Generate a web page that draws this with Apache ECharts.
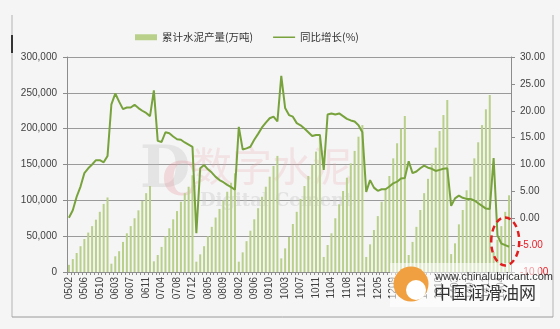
<!DOCTYPE html>
<html><head><meta charset="utf-8">
<script src="https://cdn.jsdelivr.net/npm/echarts@6/dist/echarts.min.js"></script>
<style>html,body{margin:0;padding:0;background:#f5f5f5;}#c{width:560px;height:329px;}</style>
</head><body><div id="c"></div>
<script>
// Category labels: years and months (cumulative data starts at Feb each year)
const years = ['05','06','07','08','09','10','11','12','13','14','15'];
const months = ['02','03','04','05','06','07','08','09','10','11','12'];

// Cumulative cement output (10k tonnes), Feb..Dec each year
const output2005 = [10000, 18000, 26500, 36000, 46000, 55000, 64000, 73000, 84000, 95000, 104000];
const output2006 = [11600, 21900, 29000, 42000, 54000, 64000, 75000, 86000, 99000, 110000, 120000];
const output2007 = [14900, 23700, 35000, 50000, 61000, 73500, 85000, 98000, 110000, 119000, 135000];
const output2008 = [14400, 24600, 36000, 50000, 63000, 76000, 88000, 100000, 112000, 124600, 137700];
const output2009 = [14400, 27400, 43000, 57600, 73500, 89000, 105000, 119000, 133000, 148000, 162000];
const output2010 = [19000, 33000, 49000, 67000, 84000, 102000, 120000, 134000, 150000, 168000, 187000];
const output2011 = [21000, 37700, 54000, 75000, 94500, 113000, 131600, 151600, 169000, 188800, 205000];
const output2012 = [21000, 38600, 58600, 78000, 98000, 116800, 134000, 158600, 179600, 200000, 217700];
const output2013 = [23700, 42000, 63000, 86500, 110000, 130000, 151600, 173500, 196700, 219000, 240000];
const output2014 = [25000, 40000, 66500, 86500, 114000, 133000, 158600, 181000, 205000, 227000, 247000];
const output2015 = [28000, 45000, 64000, 84000, 107000];

// Year-on-year growth (%)
const growth2005 = [0.1, 1.5, 4.0, 5.9, 8.4, 9.3, 10.0, 10.8, 10.8, 10.4, 11.6];
const growth2006 = [21.2, 23.2, 21.7, 20.3, 20.6, 20.6, 21.1, 20.5, 20.0, 19.6, 19.0];
const growth2007 = [23.8, 14.4, 14.2, 16.0, 15.8, 15.2, 14.7, 14.6, 14.1, 13.7, 13.3];
const growth2008 = [-2.8, 9.3, 9.9, 9.1, 8.5, 7.7, 7.1, 6.7, 6.2, 5.8, 5.3];
const growth2009 = [17.0, 12.8, 13.0, 13.3, 14.6, 15.7, 16.9, 17.8, 18.6, 18.9, 18.0];
const growth2010 = [26.5, 20.5, 19.2, 18.9, 17.7, 17.3, 16.7, 16.0, 15.3, 15.5, 15.5];
const growth2011 = [9.0, 19.3, 19.5, 19.3, 19.5, 19.0, 18.5, 18.2, 18.0, 17.3, 16.0];
const growth2012 = [4.9, 7.1, 5.7, 5.1, 5.4, 5.4, 5.9, 6.5, 6.8, 7.4, 7.5];
const growth2013 = [10.6, 8.4, 8.7, 9.3, 9.8, 9.4, 9.2, 8.8, 9.0, 9.2, 9.3];
const growth2014 = [2.3, 3.7, 4.2, 3.8, 3.6, 3.6, 3.3, 2.8, 2.3, 1.8, 1.7];
const growth2015 = [11.2, -3.2, -4.7, -5.0, -5.3];

// Axis ticks
const leftMin = 0, leftMax = 300000, leftStep = 50000;
const rightMin = -10, rightMax = 30, rightStep = 5;

const outputData = [].concat(output2005, output2006, output2007, output2008, output2009, output2010,
  output2011, output2012, output2013, output2014, output2015);
const growthData = [].concat(growth2005, growth2006, growth2007, growth2008, growth2009, growth2010,
  growth2011, growth2012, growth2013, growth2014, growth2015);
const categories = [];
for (const y of years) for (const m of months) if (categories.length < outputData.length) categories.push(y + m);

const FONT = "'Liberation Sans','Noto Sans CJK SC',sans-serif";
const chart = echarts.init(document.getElementById('c'), null, {renderer: 'canvas'});
chart.setOption({
  animation: false,
  backgroundColor: '#f5f5f5',
  textStyle: {fontFamily: FONT},
  legend: {
    left: 130, top: 27, itemWidth: 22, itemHeight: 6, itemGap: 20,
    textStyle: {fontSize: 10.5, color: '#333', fontFamily: "'Noto Sans CJK SC',sans-serif"},
    data: [
      {name: '累计水泥产量(万吨)', icon: 'rect'},
      {name: '同比增长(%)', icon: 'path://M0,0H24V0.05H0Z M0,2.2H24V3.8H0Z M0,5.95H24V6H0Z'}
    ]
  },
  grid: {left: 67, right: 49, top: 57, bottom: 57, containLabel: false},
  xAxis: {
    type: 'category', data: categories, boundaryGap: true,
    axisLine: {lineStyle: {color: '#8c8c8c'}},
    axisTick: {show: true, interval: 0, length: 3, lineStyle: {color: '#8c8c8c'}},
    axisLabel: {interval: 3, rotate: 90, fontSize: 10, color: '#404040', margin: 5, fontFamily: FONT}
  },
  yAxis: [{
    type: 'value', min: leftMin, max: leftMax, interval: leftStep, position: 'left',
    axisLine: {show: true, lineStyle: {color: '#8c8c8c'}},
    axisTick: {show: true, length: 4, lineStyle: {color: '#8c8c8c'}},
    splitLine: {lineStyle: {color: '#9a9a9a', width: 1}},
    axisLabel: {fontSize: 10, color: '#404040', margin: 10,
      formatter: v => v.toLocaleString('en-US')}
  }, {
    type: 'value', min: rightMin, max: rightMax, interval: rightStep, position: 'right',
    axisLine: {show: true, lineStyle: {color: '#8c8c8c'}},
    axisTick: {show: true, length: 4, lineStyle: {color: '#8c8c8c'}},
    splitLine: {show: false},
    axisLabel: {fontSize: 10, margin: 9,
      color: v => (Number(v) < 0 ? '#e8202a' : '#404040'),
      formatter: v => v.toFixed(2)}
  }],
  series: [{
    name: '累计水泥产量(万吨)', type: 'bar', data: outputData, yAxisIndex: 0,
    barWidth: 2, itemStyle: {color: '#b8d08a'}, z: 2
  }, {
    name: '同比增长(%)', type: 'line', data: growthData, yAxisIndex: 1,
    symbol: 'none', lineStyle: {color: '#78a23c', width: 2}, itemStyle: {color: '#78a23c'}, z: 3
  }]
});

// Annotation ellipse anchored to the data region at the end of the series
const lastIdx = categories.length - 1;
const c1 = chart.convertToPixel({xAxisIndex: 0, yAxisIndex: 1}, [lastIdx - 1.5, -4.5]);
const dcFont = "'DejaVu Serif','Liberation Serif',serif";
chart.setOption({
  graphic: [
    {type: 'line', shape: {x1: 12, y1: 15, x2: 12, y2: 317}, style: {stroke: '#b3b3b3', lineWidth: 1}, silent: true},
    {type: 'line', shape: {x1: 553, y1: 15, x2: 553, y2: 317}, style: {stroke: '#b3b3b3', lineWidth: 1}, silent: true},
    {type: 'line', shape: {x1: 12, y1: 317, x2: 553, y2: 317}, style: {stroke: '#9a9a9a', lineWidth: 1}, silent: true},
    {type: 'rect', shape: {x: 11, y: 35, width: 2, height: 18}, style: {fill: '#333'}, silent: true},
    // watermark
    {type: 'text', x: 140, y: 143, z: 1, style: {text: 'D', font: 'bold 58px ' + dcFont, fill: 'rgba(190,190,190,0.3)'}, silent: true},
    {type: 'text', x: 162, y: 160, z: 1, style: {text: 'C', font: 'bold 46px ' + dcFont, fill: 'rgba(230,150,160,0.3)'}, silent: true},
    {type: 'text', x: 192, y: 146, z: 1, style: {text: '数字水泥', font: '40px "Noto Sans CJK SC"', fill: 'rgba(235,170,180,0.25)'}, silent: true},
    {type: 'text', x: 200, y: 192, z: 1, style: {text: 'Digital Cement', font: 'bold 18px ' + dcFont, fill: 'rgba(200,200,200,0.4)'}, silent: true},
    // site logo
    {type: 'rect', shape: {x: 390, y: 263, width: 150, height: 44}, z: 10, style: {fill: 'rgba(255,255,255,0.55)'}, silent: true},
    {type: 'circle', shape: {cx: 411, cy: 284, r: 17.5}, z: 11, style: {fill: '#f0a040'}, silent: true},
    {type: 'circle', shape: {cx: 416, cy: 290, r: 10}, z: 11, style: {fill: '#ffffff'}, silent: true},
    {type: 'text', x: 435, y: 271, z: 11, style: {text: 'www.chinalubricant.com', font: '11px "Liberation Sans"', fill: '#333'}, silent: true},
    {type: 'text', x: 434, y: 284, z: 11, style: {text: '中国润滑油网', font: '17px "Noto Sans CJK SC"', fill: '#333'}, silent: true},
    // red dashed ellipse annotation
    {type: 'ellipse', shape: {cx: c1[0], cy: c1[1] - 1, rx: 14, ry: 24}, z: 12,
      style: {fill: 'none', stroke: '#e02020', lineWidth: 2.5, lineDash: [6, 4]}, silent: true}
  ]
});
</script></body></html>
